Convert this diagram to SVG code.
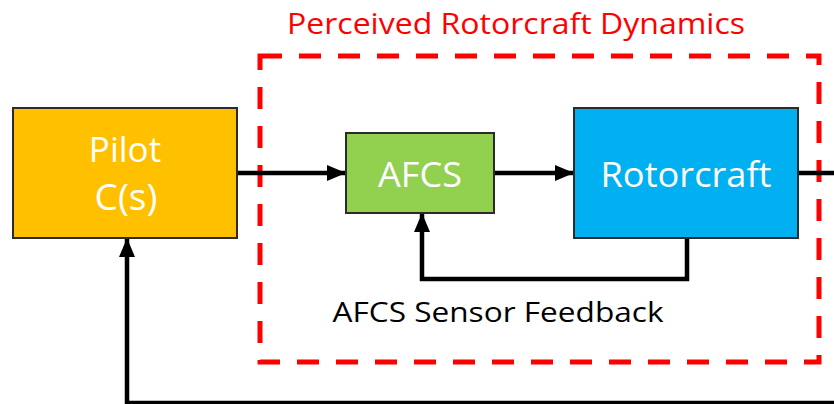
<svg xmlns="http://www.w3.org/2000/svg" width="834" height="404" viewBox="0 0 834 404">
<defs>
<style>
.box{stroke:#2b2b2b;stroke-width:2}
.lbl{font-family:"Open Sans","Liberation Sans",sans-serif;fill:#ffffff;text-anchor:middle}
.wire{fill:none;stroke:#000;stroke-width:4.5;stroke-linejoin:miter}
</style>
<marker id="ah" markerUnits="userSpaceOnUse" markerWidth="20" markerHeight="20" viewBox="0 0 20 20" refX="19" refY="10" orient="auto">
<path d="M0,2 L19,10 L0,18 Z" fill="#000"/>
</marker>
</defs>
<rect width="834" height="404" fill="#ffffff"/>
<g id="frame">
<text x="516" y="34" font-family="'Open Sans','Liberation Sans',sans-serif" font-size="29" fill="#ff0000" text-anchor="middle" textLength="458" lengthAdjust="spacingAndGlyphs">Perceived Rotorcraft Dynamics</text>
<rect x="260" y="56" width="559" height="306" fill="none" stroke="#ff0000" stroke-width="5" stroke-dasharray="22 17"/>
</g>
<g id="connectors">
<line class="wire" x1="237" y1="173" x2="346" y2="173" marker-end="url(#ah)"/>
<line class="wire" x1="494" y1="173" x2="574" y2="173" marker-end="url(#ah)"/>
<line class="wire" x1="798" y1="173" x2="834" y2="173"/>
<polyline class="wire" points="687,238 687,279 422,279 422,213" marker-end="url(#ah)"/>
<polyline class="wire" points="834,403 127,403 127,238" marker-end="url(#ah)"/>
</g>
<g id="pilot">
<rect class="box" x="13" y="108" width="224" height="130" fill="#ffc000"/>
<text class="lbl" x="125" y="162" font-size="35">Pilot</text>
<text class="lbl" x="126" y="210" font-size="37">C(s)</text>
</g>
<g id="afcs">
<rect class="box" x="346" y="133" width="148" height="80" fill="#92d050"/>
<text class="lbl" x="420" y="187" font-size="34" textLength="84" lengthAdjust="spacingAndGlyphs">AFCS</text>
</g>
<g id="rotorcraft">
<rect class="box" x="574" y="108" width="224" height="130" fill="#00b0f0"/>
<text class="lbl" x="686" y="187" font-size="35" textLength="171" lengthAdjust="spacingAndGlyphs">Rotorcraft</text>
</g>
<g id="feedback-label">
<text x="498" y="322" font-family="'Open Sans','Liberation Sans',sans-serif" font-size="28" fill="#000" text-anchor="middle" textLength="331" lengthAdjust="spacingAndGlyphs">AFCS Sensor Feedback</text>
</g>
</svg>
